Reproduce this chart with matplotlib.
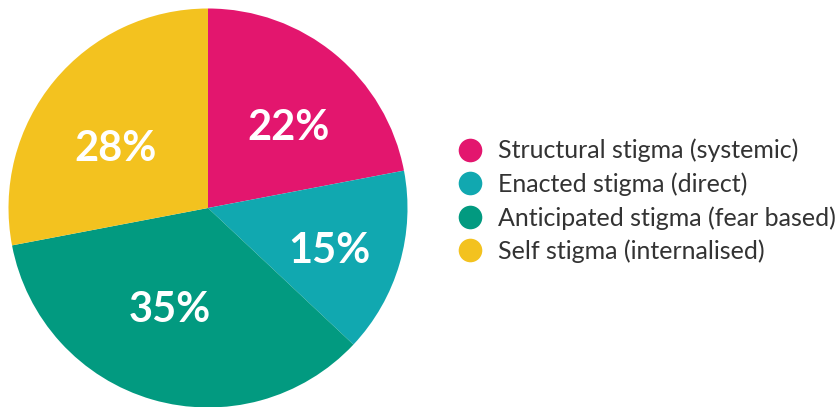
import matplotlib
matplotlib.use("Agg")
import matplotlib.pyplot as plt
import matplotlib.transforms as mtransforms
import numpy as np
from matplotlib.lines import Line2D

categories = [
    "Structural stigma (systemic)",
    "Enacted stigma (direct)",
    "Anticipated stigma (fear based)",
    "Self stigma (internalised)",
]
shares = [22, 15, 35, 28]
colours = ["#E3166E", "#11A8B0", "#029A80", "#F3C21F"]

# per-wedge placement of the percentage labels: (radius fraction, angle nudge in degrees)
label_place = [(0.58, -4.4), (0.64, -1.8), (0.53, -5.0), (0.56, 5.5)]

W, H, DPI = 839, 407, 100
fig = plt.figure(figsize=(W / DPI, H / DPI), dpi=DPI)

# pie: centre (208, 208) px from top-left, radius ~199.5 px
cx, cy, r = 208, 208, 199.5
ax = fig.add_axes([(cx - r) / W, (H - cy - r) / H, 2 * r / W, 2 * r / H])
wedges, _ = ax.pie(
    shares,
    colors=colours,
    startangle=90,
    counterclock=False,
    radius=1,
    wedgeprops=dict(linewidth=0),
)
# nudge the labels a few pixels down so the digits sit optically centred
label_tf = mtransforms.offset_copy(ax.transData, fig=fig, x=0, y=-3.5, units="dots")
for w, val, (dist, nudge) in zip(wedges, shares, label_place):
    ang = np.deg2rad((w.theta1 + w.theta2) / 2 + nudge)
    ax.text(dist * np.cos(ang), dist * np.sin(ang), f"{val}%",
            transform=label_tf, ha="center", va="center", color="white",
            fontsize=30, fontweight="bold", family="Lato")
ax.set_xlim(-1, 1)
ax.set_ylim(-1, 1)
ax.axis("off")

handles = [
    Line2D([], [], linestyle="none", marker="o", markersize=17,
           markerfacecolor=c, markeredgewidth=0)
    for c in colours
]
fig.legend(
    handles, categories,
    loc="center left", bbox_to_anchor=(457.5 / W, 1 - 201 / H),
    frameon=False, handletextpad=0.62, handlelength=1.0,
    labelspacing=0.4, borderaxespad=0, borderpad=0,
    prop=dict(family="Lato", size=18),
    labelcolor="#333333",
)

fig.savefig("out.png", dpi=DPI)
